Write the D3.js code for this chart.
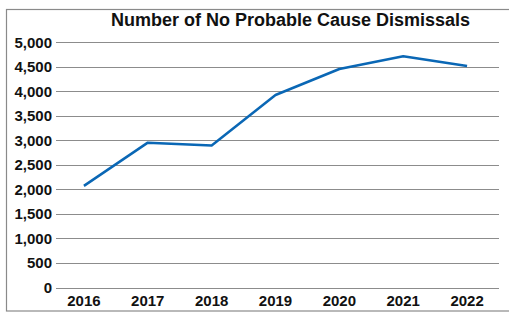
<!DOCTYPE html>
<html>
<head>
<meta charset="utf-8">
<script src="https://cdn.jsdelivr.net/npm/d3@7"></script>
<style>
  body { margin: 0; background: #fff; }
  svg { display: block; font-family: "Liberation Sans", Arial, sans-serif; }
</style>
</head>
<body>
<div id="chart"></div>
<script>
// data
var years = ['2016', '2017', '2018', '2019', '2020', '2021', '2022'];
var dismissals = [2070, 2950, 2890, 3920, 4450, 4710, 4510];
var yTicks = [0, 500, 1000, 1500, 2000, 2500, 3000, 3500, 4000, 4500, 5000];
var title = 'Number of No Probable Cause Dismissals';

var width = 509, height = 314;
var svg = d3.select('#chart').append('svg')
    .attr('width', width)
    .attr('height', height);

// frame around the chart
svg.append('rect')
    .attr('x', 6.5).attr('y', 9.5)
    .attr('width', width).attr('height', 301.5)
    .attr('fill', 'none')
    .attr('stroke', '#8a8a8a')
    .attr('stroke-width', 1.2);

var x = d3.scaleBand().domain(years).range([52, 499]);
var y = d3.scaleLinear().domain([0, 5000]).range([287.5, 42]);

// gridlines
svg.append('g').selectAll('line')
    .data(yTicks)
    .enter().append('line')
    .attr('x1', 56).attr('x2', 499)
    .attr('y1', function (d) { return Math.round(y(d)) + 0.5; })
    .attr('y2', function (d) { return Math.round(y(d)) + 0.5; })
    .attr('stroke', '#8c8c8c')
    .attr('stroke-width', 1);

// y labels
svg.append('g').selectAll('text')
    .data(yTicks)
    .enter().append('text')
    .attr('x', 52)
    .attr('y', function (d) { return y(d) + 5.5; })
    .attr('text-anchor', 'end')
    .style('font-size', '15px')
    .style('font-weight', 'bold')
    .attr('fill', '#111')
    .text(function (d) { return d3.format(',')(d); });

// x labels
svg.append('g').selectAll('text')
    .data(years)
    .enter().append('text')
    .attr('x', function (d) { return x(d) + x.bandwidth() / 2; })
    .attr('y', 306)
    .attr('text-anchor', 'middle')
    .style('font-size', '15px')
    .style('font-weight', 'bold')
    .attr('fill', '#111')
    .text(function (d) { return d; });

// the line
var line = d3.line()
    .x(function (d, i) { return x(years[i]) + x.bandwidth() / 2; })
    .y(function (d) { return y(d); });

svg.append('path')
    .datum(dismissals)
    .attr('d', line)
    .attr('fill', 'none')
    .attr('stroke', '#0a67b5')
    .attr('stroke-width', 2.5)
    .attr('stroke-linejoin', 'round');

// title
svg.append('text')
    .attr('x', 290.5)
    .attr('y', 26)
    .attr('text-anchor', 'middle')
    .style('font-size', '18px')
    .style('font-weight', 'bold')
    .attr('fill', '#111')
    .text(title);
</script>
</body>
</html>
